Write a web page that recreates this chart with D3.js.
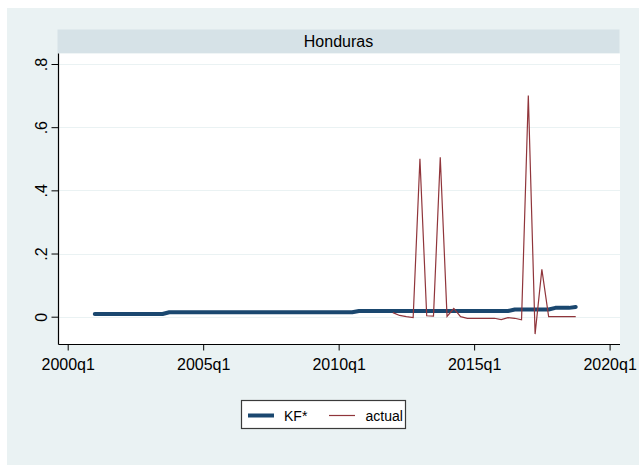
<!DOCTYPE html>
<html>
<head>
<meta charset="utf-8">
<script src="https://cdn.jsdelivr.net/npm/d3@7"></script>
<style>
  html, body { margin: 0; padding: 0; background: #ffffff; }
  svg { display: block; font-family: "Liberation Sans", Arial, sans-serif; }
</style>
</head>
<body>
<svg id="chart" width="639" height="466"></svg>
<script>
// ---- data ----
const panelTitle = "Honduras";
const xTickLabels = ["2000q1", "2005q1", "2010q1", "2015q1", "2020q1"];
const yTickValues = [0, 0.2, 0.4, 0.6, 0.8];
const yTickLabels = ["0", ".2", ".4", ".6", ".8"];
const seriesNames = ["KF*", "actual"];

// KF*: quarterly, 2001q1 .. 2018q4
const kfStart = "2001q1";
const kfValues = [
  0.0085,0.0085,0.0085,0.0085,0.0085,0.0085,0.0085,0.0085,0.0085,0.0085,0.0085,
  0.014,0.014,0.014,0.014,0.014,0.014,0.014,0.014,0.014,0.014,0.014,0.014,0.014,0.014,
  0.014,0.014,0.014,0.014,0.014,0.014,0.014,0.014,0.014,0.014,0.014,0.014,0.014,0.014,
  0.018,0.018,0.018,0.018,0.018,0.018,0.018,0.018,0.018,0.018,0.018,0.018,
  0.018,0.018,0.018,0.018,0.018,0.018,0.018,0.018,0.018,0.018,0.018,
  0.023,0.023,0.023,0.023,0.023,0.023,
  0.028,0.028,0.028,
  0.031
];

// actual: quarterly, 2012q1 .. 2018q4
const actualStart = "2012q1";
const actualValues = [
  0.013, 0.004, 0.0, -0.003, 0.50, 0.003, 0.002, 0.505,
  0.001, 0.026, 0.0, -0.005, -0.005, -0.005, -0.005, -0.005,
  -0.009, -0.003, -0.005, -0.010, 0.70, -0.055, 0.15, 0.0,
  0.0, 0.0, 0.0, 0.0
];

// ---- helpers ----
const qIndex = s => { const [y, q] = s.split("q").map(Number); return (y - 2000) * 4 + (q - 1); };
const qLabel = i => `${2000 + Math.floor(i / 4)}q${(i % 4) + 1}`;
const toPoints = (start, vals) => vals.map((v, i) => ({ q: qIndex(start) + i, v }));

const kfData = toPoints(kfStart, kfValues);
const actualData = toPoints(actualStart, actualValues);

// ---- layout ----
const svg = d3.select("#chart");
const W = 639, H = 466;
const plot = { left: 58.5, right: 620, top: 53.5, bottom: 344.5 };

const colBg = "#eaf2f3", colStrip = "#d6e2e7", colGrid = "#eaf2f3";
const colKF = "#1a476f", colAct = "#90353b";

svg.append("rect").attr("x", 7).attr("y", 8).attr("width", W - 7).attr("height", 457).attr("fill", colBg);

// title strip
svg.append("rect").attr("x", 57.5).attr("y", 29.5).attr("width", 562).attr("height", 24).attr("fill", colStrip);
svg.append("text").attr("x", 338.5).attr("y", 47).attr("text-anchor", "middle")
  .attr("font-size", 16).attr("fill", "#000").text(panelTitle);

// plot region
svg.append("rect").attr("x", plot.left).attr("y", plot.top)
  .attr("width", plot.right - plot.left).attr("height", plot.bottom - plot.top).attr("fill", "#fff");

const x = d3.scaleLinear().domain([qIndex("2000q1"), qIndex("2020q1")]).range([67.7, 609.6]);
const y = d3.scaleLinear().domain([0, 0.8]).range([316.7, 64]);

// gridlines
svg.append("g").selectAll("line").data(yTickValues).join("line")
  .attr("x1", plot.left).attr("x2", plot.right)
  .attr("y1", d => Math.round(y(d)) + 0.5).attr("y2", d => Math.round(y(d)) + 0.5)
  .attr("stroke", colGrid).attr("stroke-width", 1.2);

// y axis
const yAxis = d3.axisLeft(y).tickValues(yTickValues).tickSize(7).tickPadding(5)
  .tickFormat((d, i) => yTickLabels[i]);
const gy = svg.append("g").attr("transform", `translate(${plot.left},0)`).call(yAxis);
gy.select(".domain").remove();
gy.selectAll(".tick line").attr("stroke", "#000");
gy.selectAll(".tick text")
  .attr("font-size", 16).attr("fill", "#000")
  .attr("font-family", "'Liberation Sans', Arial, sans-serif")
  .attr("text-anchor", "middle").attr("dy", null)
  .attr("x", null)
  .attr("transform", "translate(-12,0) rotate(-90)");
svg.append("line").attr("x1", plot.left).attr("x2", plot.left)
  .attr("y1", plot.top).attr("y2", plot.bottom).attr("stroke", "#000").attr("stroke-width", 1.2);

// x axis
const xTickValues = xTickLabels.map(qIndex);
const xAxis = d3.axisBottom(x).tickValues(xTickValues).tickSize(6).tickPadding(8)
  .tickFormat(d => qLabel(d));
const gx = svg.append("g").attr("transform", `translate(0,${plot.bottom})`).call(xAxis);
gx.select(".domain").remove();
gx.selectAll(".tick line").attr("stroke", "#000");
gx.selectAll(".tick text").attr("font-size", 16).attr("fill", "#000")
  .attr("font-family", "'Liberation Sans', Arial, sans-serif");
svg.append("line").attr("x1", plot.left).attr("x2", plot.right)
  .attr("y1", plot.bottom).attr("y2", plot.bottom).attr("stroke", "#000").attr("stroke-width", 1.2);

// lines
const line = d3.line().x(d => x(d.q)).y(d => y(d.v));
svg.append("path").datum(kfData).attr("d", line).attr("fill", "none")
  .attr("stroke", colKF).attr("stroke-width", 4).attr("stroke-linejoin", "round").attr("stroke-linecap", "round");
svg.append("path").datum(actualData).attr("d", line).attr("fill", "none")
  .attr("stroke", colAct).attr("stroke-width", 1.2).attr("stroke-linejoin", "miter");

// legend
const lg = svg.append("g");
lg.append("rect").attr("x", 241.5).attr("y", 400.5).attr("width", 164).attr("height", 28)
  .attr("fill", "#fff").attr("stroke", "#3a3a3a").attr("stroke-width", 1.2);
lg.append("line").attr("x1", 248).attr("x2", 274).attr("y1", 415.5).attr("y2", 415.5)
  .attr("stroke", colKF).attr("stroke-width", 4);
lg.append("text").attr("x", 284).attr("y", 420.5).attr("font-size", 14).text(seriesNames[0]);
lg.append("line").attr("x1", 329).attr("x2", 355).attr("y1", 415.5).attr("y2", 415.5)
  .attr("stroke", colAct).attr("stroke-width", 1.2);
lg.append("text").attr("x", 365.5).attr("y", 420.5).attr("font-size", 14).text(seriesNames[1]);
</script>
</body>
</html>
